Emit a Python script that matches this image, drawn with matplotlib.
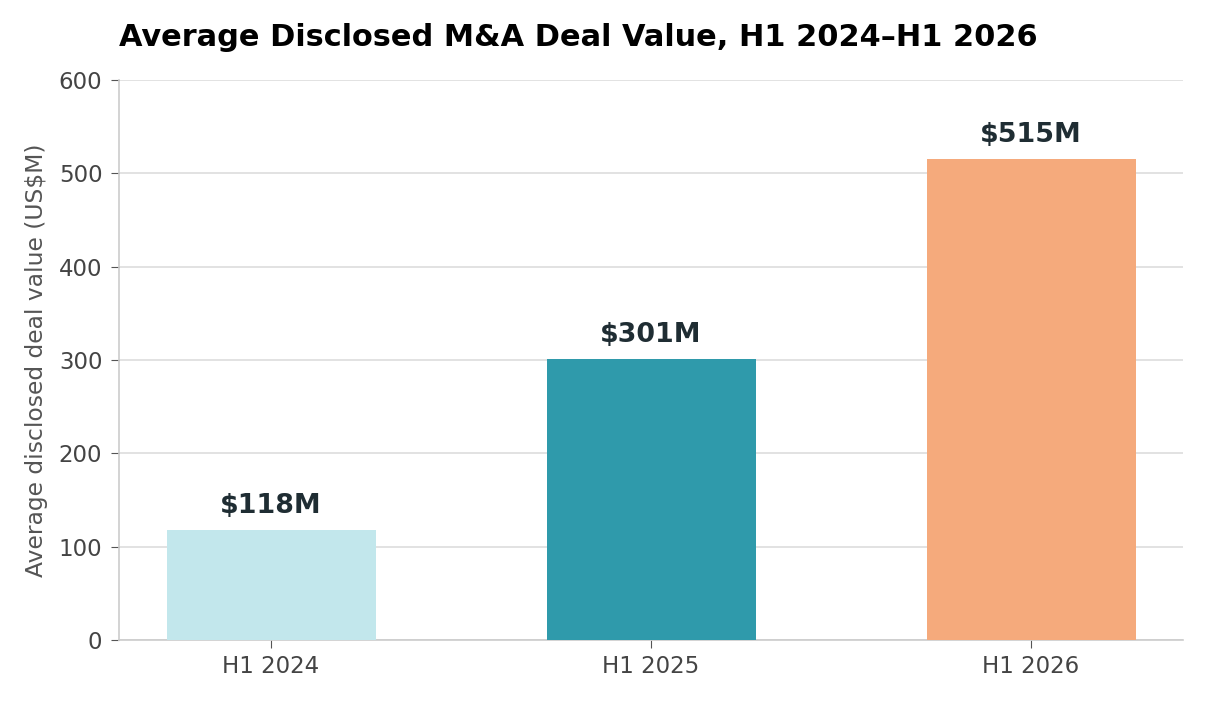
import matplotlib
matplotlib.use("Agg")
import matplotlib.pyplot as plt

categories = ["H1 2024", "H1 2025", "H1 2026"]
values = [118, 301, 515]
labels = ["$118M", "$301M", "$515M"]
colors = ["#c2e7ec", "#2f9aab", "#f5aa7c"]

plt.rcParams['font.family'] = ['DejaVu Sans']

fig = plt.figure(figsize=(12.11, 7.08), dpi=100)
ax = fig.add_axes([119/1211, (708-640)/708, (1183-119)/1211, (640-80)/708])

x = list(range(len(categories)))
bars = ax.bar(x, values, width=0.55, color=colors, zorder=3)

for xi, v, lab in zip(x, values, labels):
    ax.annotate(lab, (xi, v), xytext=(0, 8), textcoords="offset points",
                ha="center", va="bottom", fontsize=19.4, fontweight="bold",
                color="#1f2d33", zorder=4)

ax.set_xlim(-0.4, 2.4)
ax.set_ylim(0, 600)
ax.set_yticks([0, 100, 200, 300, 400, 500, 600])
ax.set_xticks(x)
ax.set_xticklabels(categories)
ax.tick_params(axis="both", labelsize=16.5, labelcolor="#444444", color="#555555", length=5.5)
ax.tick_params(axis="x", pad=5)
ax.tick_params(axis="y", pad=6.5)
ax.set_ylabel("Average disclosed deal value (US$M)", fontsize=16.8, color="#555555", labelpad=8)

ax.grid(axis="y", color="#dddddd", linewidth=1.2, zorder=0)
for s in ["top", "right"]:
    ax.spines[s].set_visible(False)
for s in ["left", "bottom"]:
    ax.spines[s].set_color("#cccccc")
    ax.spines[s].set_linewidth(1.2)

fig.text(119/1211, 1 - 38/708, "Average Disclosed M&A Deal Value, H1 2024\u2013H1 2026",
         fontsize=21.9, fontweight="bold", ha="left", va="center", color="black")

fig.savefig("out.png", dpi=100)
